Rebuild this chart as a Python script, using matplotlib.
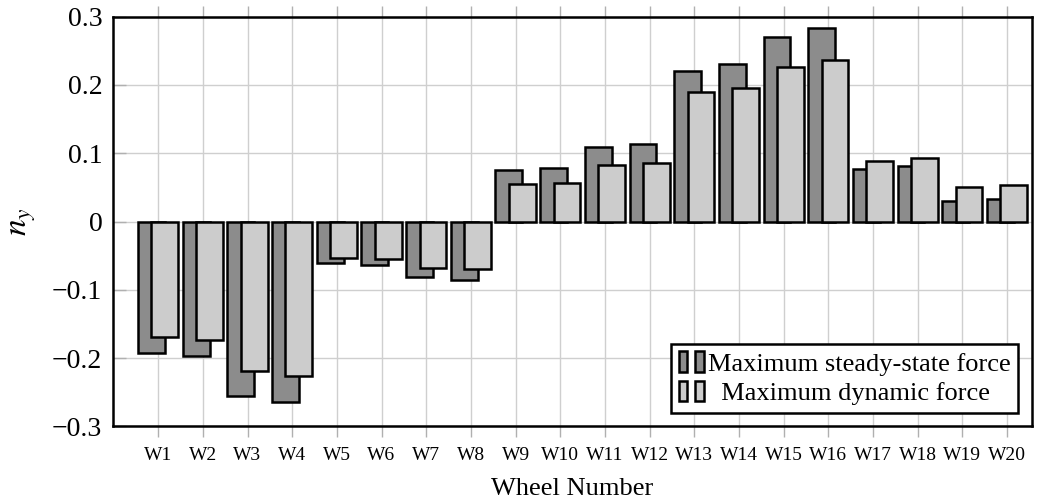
import matplotlib
matplotlib.use("Agg")
import matplotlib.pyplot as plt
import numpy as np
from matplotlib.patches import Patch
from matplotlib.legend_handler import HandlerTuple
from matplotlib.ticker import FuncFormatter

plt.rcParams['font.family'] = ['Liberation Serif', 'DejaVu Serif']
plt.rcParams['mathtext.fontset'] = 'stix'

wheels = [f"W{i}" for i in range(1, 21)]
steady = [-0.192, -0.197, -0.255, -0.265, -0.061, -0.063, -0.081, -0.085,
          0.075, 0.078, 0.109, 0.114, 0.221, 0.231, 0.270, 0.283,
          0.077, 0.081, 0.030, 0.033]
dynamic = [-0.169, -0.174, -0.219, -0.226, -0.053, -0.055, -0.068, -0.069,
           0.055, 0.057, 0.083, 0.086, 0.189, 0.195, 0.226, 0.236,
           0.089, 0.093, 0.051, 0.054]
labels = ["Maximum steady-state force", "  Maximum dynamic force"]

dark = "#8c8c8c"
light = "#cccccc"

fig = plt.figure(figsize=(10.41, 5.04), dpi=100)
ax = fig.add_axes([0.109, 0.154, 0.882, 0.813])

x = np.arange(1, len(wheels) + 1)
w = 0.6
ax.bar(x - 0.15, steady, w, color=dark, edgecolor="black", linewidth=1.8, zorder=3)
ax.bar(x + 0.15, dynamic, w, color=light, edgecolor="black", linewidth=1.8, zorder=4)

ax.set_xlim(0, 20.55)
ax.set_ylim(-0.3, 0.3)
ax.set_xticks(x)
ax.set_xticklabels(wheels, fontsize=14)
ax.set_yticks([-0.3, -0.2, -0.1, 0, 0.1, 0.2, 0.3])
ax.yaxis.set_major_formatter(FuncFormatter(
    lambda v, p: "0" if abs(v) < 1e-9 else f"{v:.1f}".replace("-", "\u2212")))
ax.tick_params(axis='y', labelsize=20, direction='in', length=9, color="#b0b0b0",
               width=1, pad=8)
ax.tick_params(axis='x', direction='out', length=8, color="#b0b0b0", width=1,
               top=True, pad=7)

ax.grid(True, color="#cfcfcf", linewidth=1, zorder=0)
ax.set_axisbelow(True)
for s in ax.spines.values():
    s.set_linewidth(1.8)
    s.set_zorder(5)

ax.set_xlabel("Wheel Number", fontsize=19, labelpad=10)
ax.set_ylabel("$n_y$", fontsize=24, labelpad=10)

h1 = (Patch(facecolor=dark, edgecolor="black", linewidth=1.8),
      Patch(facecolor=dark, edgecolor="black", linewidth=1.8))
h2 = (Patch(facecolor=light, edgecolor="black", linewidth=1.8),
      Patch(facecolor=light, edgecolor="black", linewidth=1.8))
leg = ax.legend([h1, h2], labels, loc="lower right", fontsize=19,
                handler_map={tuple: HandlerTuple(ndivide=None, pad=0.3)},
                handlelength=0.95, handleheight=0.8, handletextpad=0.15,
                borderpad=0.3, labelspacing=0.2, fancybox=False,
                framealpha=1, edgecolor="black", borderaxespad=0.5)
leg.get_frame().set_linewidth(1.8)
leg.set_zorder(6)

fig.savefig("out.png", dpi=100)
